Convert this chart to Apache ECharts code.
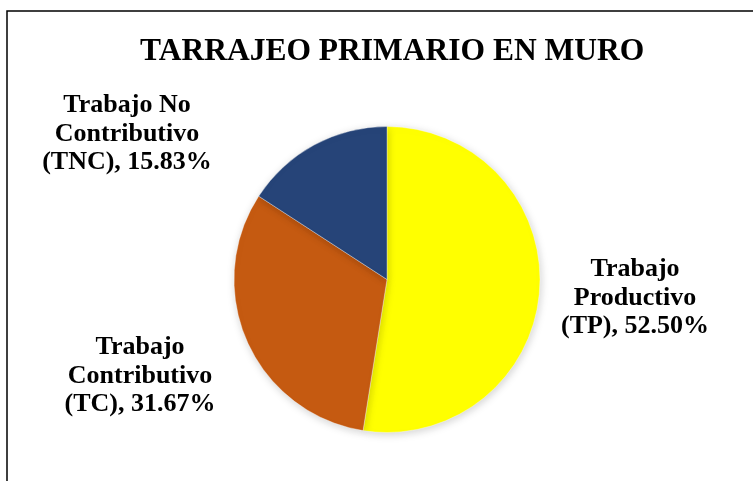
<!DOCTYPE html>
<html>
<head>
<meta charset="utf-8">
<script src="https://cdn.jsdelivr.net/npm/echarts@6/dist/echarts.min.js"></script>
<style>
  html, body { margin: 0; padding: 0; background: #fff; }
  #chart { width: 753px; height: 481px; }
</style>
</head>
<body>
<div id="chart"></div>
<script>
// datos del gráfico
const categorias = ['Trabajo Productivo (TP)', 'Trabajo Contributivo (TC)', 'Trabajo No Contributivo (TNC)'];
const etiquetas = ['Trabajo\nProductivo\n(TP)', 'Trabajo\nContributivo\n(TC)', 'Trabajo No\nContributivo\n(TNC)'];
const porcentajes = [52.50, 31.67, 15.83];
const colores = ['#FFFF00', '#C55A11', '#264478'];

// posición de cada etiqueta (centro del bloque de texto)
const posEtiquetas = [
  { x: 635, y: 298 },
  { x: 140, y: 376 },
  { x: 127, y: 134 }
];

const chart = echarts.init(document.getElementById('chart'), null, { renderer: 'canvas' });

const fuente = '"Liberation Serif", "Times New Roman", serif';

chart.setOption({
  backgroundColor: '#fff',
  animation: false,
  title: {
    text: 'TARRAJEO PRIMARIO EN MURO',
    left: 135,
    top: 31,
    textStyle: {
      fontFamily: fuente,
      fontWeight: 'bold',
      fontSize: 31.5,
      color: '#000'
    }
  },
  graphic: [{
    type: 'rect',
    shape: { x: 7, y: 11, width: 800, height: 520 },
    style: { fill: 'none', stroke: '#000', lineWidth: 1.5 },
    silent: true
  }],
  series: [{
    type: 'pie',
    center: [387, 279.5],
    radius: 153,
    startAngle: 90,
    clockwise: true,
    data: categorias.map((c, i) => ({
      name: c,
      value: porcentajes[i],
      itemStyle: { color: colores[i] },
      label: { formatter: etiquetas[i] + ', ' + porcentajes[i].toFixed(2) + '%' }
    })),
    itemStyle: {
      borderColor: 'rgba(255,255,255,0.6)',
      borderWidth: 0.6,
      shadowBlur: 8,
      shadowColor: 'rgba(0,0,0,0.18)',
      shadowOffsetX: 1,
      shadowOffsetY: 2
    },
    label: {
      show: true,
      position: 'outside',
      fontFamily: fuente,
      fontWeight: 'bold',
      fontSize: 26,
      lineHeight: 28.5,
      color: '#000',
      align: 'center',
      verticalAlign: 'middle'
    },
    labelLine: { show: false },
    labelLayout: function (p) {
      const pos = posEtiquetas[p.dataIndex];
      return { x: pos.x, y: pos.y, align: 'center', verticalAlign: 'middle' };
    },
    emphasis: { disabled: true }
  }]
});
</script>
</body>
</html>
